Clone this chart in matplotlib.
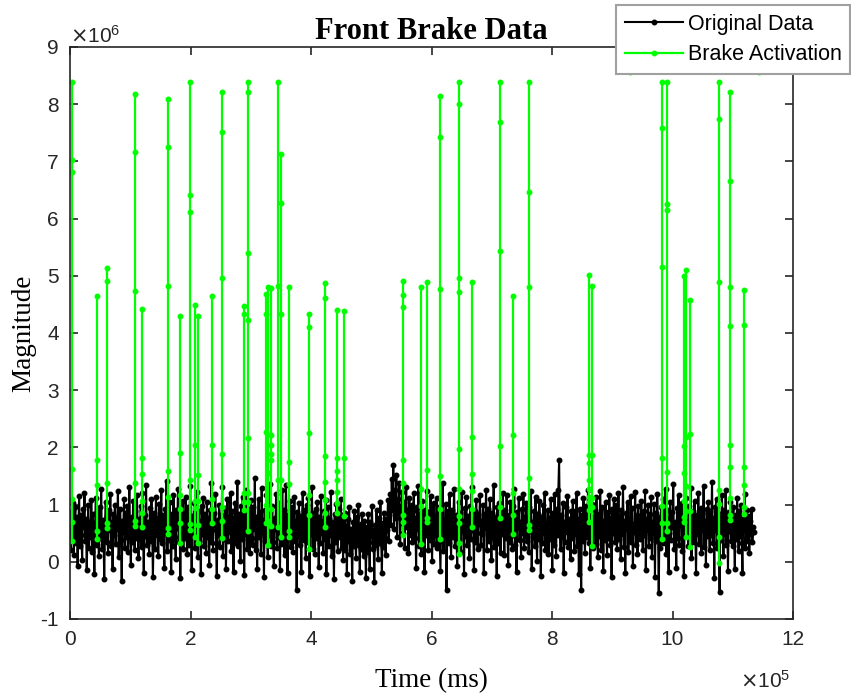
import numpy as np
import matplotlib
matplotlib.use("Agg")
import matplotlib.pyplot as plt
from matplotlib.ticker import ScalarFormatter

# ---------------- data (time in 1e5 ms, magnitude in 1e6) ----------------
time_start = 0.0
time_end = 11.35
time_scale = 1e5
mag_scale = 1e6

original_values = [
    0.55, 0.21, 0.88, 0.40, 1.02, 0.12, 0.67, 0.95, 0.33, 0.78, -0.08, 0.59, 1.15, 0.28, 0.81, 0.47, 0.03, 0.92, 0.61, 1.21, 0.36, 0.74, -0.15, 0.52, 0.99, 0.25, 0.70, 0.44, 1.08, 0.18,
    0.83, 0.49, -0.22, 0.65, 1.12, 0.30, 0.87, 0.57, 0.10, 0.96, 0.41, 1.27, 0.22, 0.73, 0.50, -0.30, 0.62, 1.05, 0.34, 0.80, 0.15, 0.91, 0.56, 1.19, 0.27, 0.69, -0.12, 0.84, 0.46, 1.00,
    0.31, 0.77, 0.58, 1.24, 0.09, 0.66, 0.93, 0.38, -0.33, 0.71, 0.52, 1.10, 0.24, 0.85, 0.43, 0.97, 0.17, 0.63, 1.30, 0.48, -0.05, 0.79, 0.35, 1.06, 0.60, 0.20, 0.89, 0.42, 1.16, 0.54,
    0.07, 0.75, 0.39, 0.98, 0.26, 1.20, 0.61, -0.20, 0.82, 0.45, 1.35, 0.29, 0.70, 0.53, 0.14, 0.94, 0.37, 1.09, 0.64, -0.26, 0.58, 0.86, 0.23, 1.13, 0.47, 0.76, 0.11, 1.01, 0.40, 0.68,
    1.25, 0.32, 0.81, 0.50, -0.10, 0.92, 0.63, 1.42, 0.19, 0.72, 0.38, 1.04, 0.55, -0.18, 0.84, 0.27, 1.17, 0.66, 0.44, 0.05, 0.90, 0.59, 1.28, 0.34, 0.78, -0.28, 0.69, 0.48, 1.07, 0.22,
    0.86, 0.41, 1.14, 0.57, 0.13, 0.95, 0.30, 0.74, 1.33, 0.46, -0.14, 0.80, 0.62, 1.02, 0.25, 0.68, 0.52, 1.22, 0.08, 0.88, 0.36, 0.71, -0.22, 0.97, 0.49, 1.11, 0.28, 0.83, 0.60, 0.16,
    1.05, 0.43, 0.77, -0.06, 0.91, 0.35, 1.38, 0.56, 0.21, 0.86, 0.64, 1.18, 0.32, -0.25, 0.73, 0.47, 1.00, 0.26, 0.82, 0.58, 1.30, 0.11, 0.69, 0.40, 0.94, -0.12, 0.63, 1.09, 0.37, 0.79,
    0.52, 1.20, 0.19, 0.88, 0.45, -0.17, 0.76, 1.02, 0.33, 0.65, 1.40, 0.28, 0.84, 0.54, 0.02, 0.97, 0.39, 1.13, 0.60, -0.23, 0.81, 0.48, 1.26, 0.23, 0.71, 0.92, 0.15, 0.67, 1.08, 0.42,
    0.30, 0.95, 0.57, 1.46, 0.20, 0.78, -0.12, 0.66, 1.10, 0.44, 0.87, 0.13, 1.29, 0.51, 0.73, -0.26, 0.90, 0.37, 1.16, 0.62, 0.09, 0.83, 0.47, 1.36, 0.27, 0.70, 0.98, 0.35, -0.08, 0.77,
    0.58, 1.19, 0.24, 0.85, 0.43, 1.03, -0.15, 0.69, 0.31, 1.25, 0.55, 0.90, 0.12, 0.74, 1.34, 0.40, -0.20, 0.81, 0.49, 1.07, 0.26, 0.64, 0.96, 0.18, 0.72, 1.14, 0.36, 0.60, -0.50, 0.87,
    0.45, 1.02, 0.29, 0.80, -0.18, 0.68, 1.21, 0.38, 0.91, 0.53, 0.07, 0.99, 0.34, 1.12, 0.61, -0.24, 0.76, 0.48, 1.30, 0.22, 0.85, 0.57, 0.14, 0.93, 0.41, 1.05, 0.66, -0.09, 0.79, 0.32,
    1.15, 0.50, 0.72, 0.16, 0.89, 0.39, 1.08, -0.21, 0.63, 0.96, 0.28, 0.77, 0.46, 1.22, 0.11, 0.70, 0.54, -0.30, 0.84, 0.35, 1.01, 0.59, 0.19, 0.92, 0.43, 0.67, 1.10, 0.25, 0.81, 0.04,
    0.48, 0.86, 0.20, 0.62, -0.22, 0.75, 0.36, 0.95, 0.13, 0.58, 0.41, -0.33, 0.69, 0.27, 0.88, 0.44, 0.06, 0.79, 0.30, 1.00, 0.52, -0.18, 0.66, 0.23, 0.84, 0.38, 0.10, 0.72, 0.47, -0.28,
    0.61, 0.18, 0.83, 0.34, -0.12, 0.70, 0.45, 0.97, 0.22, 0.56, -0.35, 0.64, 0.29, 0.90, 0.40, 0.05, 0.77, 0.33, 1.04, 0.50, -0.20, 0.68, 0.26, 0.86, 0.42, 0.12, 0.74, 0.55, 1.08, 0.37,
    0.82, 1.18, 0.64, 1.45, 0.90, 1.70, 0.58, 1.25, 0.77, 1.52, 0.44, 1.10, 0.86, 1.38, 0.31, 0.98, 0.67, 1.22, 0.50, 1.05, 0.25, 0.92, 1.30, 0.60, 0.84, 0.15, 1.12, 0.71, 0.47, 1.00,
    0.35, 0.88, 1.20, 0.42, 0.76, -0.10, 0.95, 0.58, 1.33, 0.27, 0.69, 0.83, 0.14, 1.06, 0.51, 0.79, -0.18, 0.90, 0.46, 1.24, 0.63, 0.20, 0.87, 0.38, 1.15, 0.55, 0.02, 0.74, 1.02, 0.31,
    0.80, 0.47, 1.12, 0.24, 0.68, 0.96, 0.36, -0.16, 0.85, 0.57, 1.38, 0.19, 0.73, 0.50, 1.01, -0.50, 0.64, 0.88, 0.32, 1.18, 0.54, 0.09, 0.91, 0.43, 0.70, 1.27, 0.28, 0.82, 0.60, -0.08,
    0.77, 1.05, 0.39, 0.86, 0.17, 1.22, 0.53, 0.71, -0.22, 0.94, 0.45, 1.14, 0.30, 0.80, 0.62, 0.06, 0.98, 0.40, 1.30, 0.56, 0.75, -0.14, 0.89, 0.34, 1.08, 0.51, 0.23, 0.84, 0.66, 1.17,
    0.29, 0.72, 0.48, 1.00, -0.20, 0.83, 0.59, 1.26, 0.21, 0.67, 0.92, 0.37, 1.10, 0.52, 0.04, 0.86, 0.44, 1.35, 0.26, 0.78, 0.61, -0.25, 0.95, 0.33, 1.03, 0.68, 0.15, 0.88, 0.49, 1.21,
    0.58, 0.12, 0.90, 0.42, 1.16, 0.66, -0.06, 0.81, 0.35, 1.04, 0.55, 0.22, 0.97, 0.47, 1.28, 0.30, 0.74, -0.18, 0.87, 0.60, 1.11, 0.38, 0.69, 0.08, 0.93, 0.51, 1.19, 0.25, 0.79, 0.45,
    1.02, 0.36, 0.73, 0.18, 0.95, 0.53, 1.24, -0.12, 0.70, 0.44, 0.88, 0.27, 1.13, 0.62, 0.01, 0.84, 0.40, 1.06, 0.57, -0.24, 0.78, 0.32, 0.99, 0.50, 1.20, 0.21, 0.67, 0.46, 0.91, 0.14,
    0.76, 0.39, 1.09, 0.55, -0.15, 0.85, 0.30, 1.18, 0.63, 0.10, 0.92, 0.47, 1.25, 1.78, 0.58, 0.22, 0.81, 0.43, 1.03, -0.20, 0.69, 0.35, 0.96, 0.52, 1.15, 0.26, 0.74, 0.60, 0.05, 0.88,
    0.41, 1.07, 0.64, 0.19, 0.89, 0.48, 1.21, 0.28, 0.75, -0.22, 0.93, 0.56, -0.50, 0.82, 0.37, 1.12, 0.61, 0.15, 0.97, 0.44, 0.70, 1.26, 0.33, 0.86, -0.10, 0.59, 1.01, 0.24, 0.78, 0.50,
    0.90, 0.31, 1.14, 0.57, 0.08, 0.83, 0.45, 1.23, 0.20, 0.72, 0.96, -0.16, 0.64, 0.38, 1.05, 0.54, 0.12, 0.87, 0.42, 1.17, 0.29, 0.76, -0.27, 0.93, 0.51, 1.09, 0.35, 0.68, 0.99, 0.22,
    0.62, 1.20, 0.40, 0.80, 0.05, 0.91, 0.49, 1.31, 0.26, 0.71, -0.19, 0.85, 0.58, 1.04, 0.17, 0.77, 0.44, 1.15, 0.34, 0.94, -0.08, 0.66, 0.52, 1.22, 0.30, 0.82, 0.13, 0.97, 0.46, 0.73,
    0.39, 1.06, 0.60, 0.21, 0.88, 0.47, 1.24, -0.14, 0.75, 0.55, 0.99, 0.28, 0.83, 0.42, 1.13, 0.09, 0.69, 0.51, 1.01, -0.26, 0.86, 0.36, 1.18, 0.63, -0.55, 0.78, 0.25, 0.95, 0.48, 1.10,
    0.32, 0.81, 0.57, 1.27, 0.14, 0.90, 0.44, -0.18, 0.73, 1.05, 0.38, 0.87, 0.61, 1.36, 0.23, 0.70, 0.50, -0.10, 0.94, 0.41, 1.16, 0.29, 0.79, 0.64, 1.02, 0.19, 0.85, -0.24, 0.67, 0.46,
    1.12, 0.53, 0.76, 0.27, 0.98, 0.43, 1.29, 0.07, 0.68, 0.88, 0.35, 1.07, 0.59, -0.20, 0.82, 0.48, 1.20, 0.31, 0.74, 0.94, 0.16, 0.86, 0.55, 1.33, 0.26, 0.71, -0.05, 0.92, 0.45, 1.04,
    0.60, 0.20, 0.89, 0.47, 1.39, 0.33, 0.77, -0.28, 0.95, 0.56, 1.10, 0.24, 0.72, 0.43, -0.52, 0.84, 0.38, 1.17, 0.62, 0.11, 0.91, 0.49, 1.26, 0.30, 0.78, -0.16, 0.87, 0.53, 1.05, 0.36,
    0.70, 0.28, 0.96, 0.51, -0.12, 0.82, 0.40, 1.12, 0.62, 0.19, 0.88, 0.45, 1.00, 0.32, -0.20, 0.75, 0.56, 1.18, 0.24, 0.67, 0.90, 0.37, 0.80, 0.15, 0.71, 0.48, 0.93, 0.34, 0.60, 0.52,
]

# brake activation events: time (1e5 ms) and the magnitudes visited (1e6)
spike_times = [0.04, 0.44, 0.61, 1.08, 1.19, 1.63, 1.83, 1.99, 2.07, 2.12,
               2.36, 2.53, 2.89, 2.95, 3.25, 3.28, 3.34, 3.46, 3.50, 3.63,
               3.97, 4.24, 4.43, 4.55, 5.52, 5.83, 5.93, 6.14, 6.46, 6.67,
               7.14, 7.35, 7.61, 8.61, 8.66, 9.29, 9.83, 9.91, 10.19, 10.22,
               10.29, 10.77, 10.96, 11.18, 11.44]
spike_values = [
    [0.37, 0.70, 1.10, 1.62, 6.81, 7.02, 8.38],
    [0.40, 0.54, 1.34, 1.78, 4.65],
    [0.59, 0.67, 1.37, 4.91, 5.14],
    [0.63, 0.72, 1.37, 4.73, 7.16, 8.18],
    [0.61, 0.86, 1.06, 1.54, 1.82, 4.42],
    [0.49, 0.59, 1.14, 1.59, 4.82, 7.25, 8.09],
    [0.33, 0.67, 0.92, 1.16, 1.91, 4.30],
    [0.56, 0.66, 1.43, 6.11, 6.42, 8.38],
    [0.43, 0.94, 1.06, 2.05, 4.49],
    [0.33, 0.64, 1.07, 1.52, 4.30],
    [0.67, 0.92, 1.10, 2.05, 4.65],
    [0.41, 0.71, 0.95, 1.88, 4.96, 7.51, 8.22],
    [0.91, 1.05, 1.20, 4.34, 4.48],
    [0.54, 1.05, 1.20, 2.16, 4.23, 5.40, 8.22, 8.38],
    [0.67, 0.99, 2.27, 4.33, 4.68],
    [0.29, 0.71, 1.55, 4.81],
    [0.63, 0.92, 1.78, 1.88, 2.04, 2.22, 4.79],
    [0.61, 1.43, 4.82, 8.38],
    [0.43, 1.43, 4.33, 6.27, 7.13],
    [0.44, 0.53, 1.36, 1.75, 4.81],
    [0.22, 0.81, 1.16, 2.26, 4.11, 4.34],
    [0.61, 0.85, 1.08, 1.40, 1.85, 4.61, 4.87],
    [0.86, 1.02, 1.22, 1.43, 1.59, 1.81, 4.41],
    [0.80, 1.82, 4.38],
    [0.47, 0.70, 0.82, 1.37, 1.78, 4.46, 4.66, 4.91],
    [0.31, 0.98, 1.27, 4.80],
    [0.69, 0.76, 1.60, 4.90],
    [0.39, 0.92, 1.50, 4.77, 7.42, 8.14],
    [0.14, 0.32, 0.68, 0.80, 1.27, 1.97, 4.72, 4.96, 8.01, 8.38],
    [0.60, 0.92, 1.24, 1.53, 2.19, 4.89],
    [0.76, 0.96, 2.03, 5.43, 7.69, 8.38],
    [0.48, 0.82, 1.20, 2.21, 4.64],
    [0.56, 0.64, 1.46, 4.81, 6.47, 8.38],
    [0.69, 0.91, 1.05, 1.14, 1.28, 1.43, 1.72, 1.87, 5.01],
    [0.28, 0.95, 1.11, 1.87, 4.83],
    [8.57],
    [0.39, 0.67, 0.98, 1.81, 5.15, 7.58, 8.38],
    [0.54, 0.67, 1.57, 6.15, 6.26, 8.38],
    [0.69, 0.78, 1.06, 1.55, 2.03, 5.00],
    [0.43, 1.33, 2.19, 5.11],
    [0.26, 0.88, 2.23, 4.57],
    [-0.02, 0.44, 1.01, 1.26, 4.89, 7.75, 8.38],
    [0.73, 0.82, 1.11, 1.66, 2.04, 4.13, 4.80, 6.66, 8.22],
    [0.83, 0.96, 1.34, 1.65, 4.14, 4.76],
    [8.57],
]

x_ticks = [0, 2, 4, 6, 8, 10, 12]
y_ticks = [-1, 0, 1, 2, 3, 4, 5, 6, 7, 8, 9]

# ---------------- build series ----------------
orig_v = np.array(original_values) * mag_scale
orig_t = np.linspace(time_start, time_end, len(original_values)) * time_scale

g_t, g_v = [], []
for t, vals in zip(spike_times, spike_values):
    g_t.extend([t] * len(vals) + [np.nan])
    g_v.extend(list(vals) + [np.nan])
g_t = np.array(g_t) * time_scale
g_v = np.array(g_v) * mag_scale


class PlainSci(ScalarFormatter):
    """Scientific offset (x10^n) but plain-hyphen tick labels."""
    def __call__(self, x, pos=None):
        v = round(x / 10 ** self.orderOfMagnitude, 6)
        return '%g' % v


# ---------------- plot ----------------
plt.rcParams['axes.unicode_minus'] = False
plt.rcParams['font.family'] = ['Liberation Sans', 'DejaVu Sans']

fig = plt.figure(figsize=(8.51, 6.96), dpi=100)
ax = fig.add_axes([70 / 851, 1 - 619 / 696, (793 - 70) / 851, (619 - 47) / 696])

ax.plot(orig_t, orig_v, color='black', lw=1.5, marker='.', ms=6.5, label='Original Data')
ax.plot(g_t, g_v, color='#00ff00', lw=1.6, marker='.', ms=6.5, label='Brake Activation')

ax.set_xlim(0, 12 * time_scale)
ax.set_ylim(-1 * mag_scale, 9 * mag_scale)
ax.set_xticks(np.array(x_ticks) * time_scale)
ax.set_yticks(np.array(y_ticks) * mag_scale)

fx = PlainSci(useMathText=True)
fx.set_powerlimits((5, 5))
ax.xaxis.set_major_formatter(fx)
fy = PlainSci(useMathText=True)
fy.set_powerlimits((6, 6))
ax.yaxis.set_major_formatter(fy)

ax.tick_params(direction='in', top=True, right=True, length=6, width=1.2,
               labelsize=15, colors='#262626', pad=8)
ax.yaxis.get_offset_text().set_fontsize(15)
ax.xaxis.get_offset_text().set_visible(False)
ax.text(0.996, -0.108, r'$\times\mathdefault{10^{5}}$', transform=ax.transAxes,
        ha='right', va='center', fontsize=15, color='#262626')
for s in ax.spines.values():
    s.set_color('#262626')
    s.set_linewidth(1.2)

ax.set_title('Front Brake Data', family=['Liberation Serif'], fontweight='bold', fontsize=22, pad=6)
ax.set_xlabel('Time (ms)', family=['Liberation Serif'], fontsize=19.5, labelpad=14)
ax.set_ylabel('Magnitude', family=['Liberation Serif'], fontsize=19.5, labelpad=3)

leg = ax.legend(loc='upper right', bbox_to_anchor=(850 / 851, 1 - 5 / 696),
                bbox_transform=fig.transFigure, borderaxespad=0, fancybox=False,
                framealpha=1, edgecolor='#a0a0a0', fontsize=15.5, handlelength=2.7,
                borderpad=0.4, labelspacing=0.45, handletextpad=0.2)
leg.get_frame().set_linewidth(1.5)

fig.savefig('out.png', dpi=100)
